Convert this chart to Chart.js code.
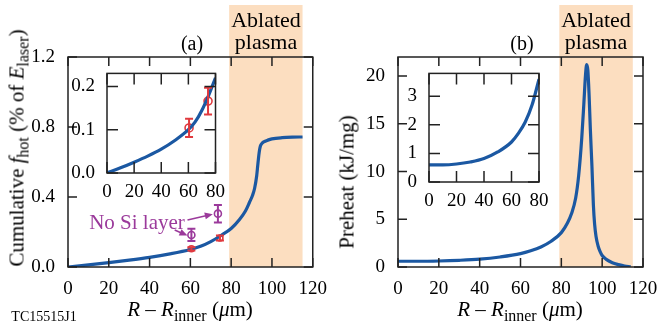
<!DOCTYPE html>
<html>
<head>
<meta charset="utf-8">
<script src="https://cdn.jsdelivr.net/npm/chart.js@4.4.1/dist/chart.umd.min.js"></script>
<style>
  body { margin: 0; width: 661px; height: 326px; position: relative; overflow: hidden; background: #fff;
         font-family: 'Liberation Serif', serif; color: #000; }
  canvas { position: absolute; }
  .t { position: absolute; white-space: nowrap; line-height: 1; transform: translate(-50%, -50%); font-family: 'Liberation Serif', serif; }
  .t sub { font-size: 76%; vertical-align: baseline; position: relative; top: 0.32em; }
  .rot { transform: translate(-50%, -50%) rotate(-90deg); }
</style>
</head>
<body>
<canvas id="mainA" width="330" height="326" style="left:0;top:0"></canvas>
<canvas id="insetA" width="165" height="145" style="left:60px;top:58px"></canvas>
<canvas id="mainB" width="331" height="326" style="left:330px;top:0"></canvas>
<canvas id="insetB" width="160" height="150" style="left:390px;top:58px"></canvas>

<div class="t" style="left:192px;top:43px;font-size:20px">(a)</div>
<div class="t" style="left:266px;top:31px;font-size:22px;text-align:center;line-height:22px">Ablated<br>plasma</div>
<div class="t" style="left:522px;top:43px;font-size:20px">(b)</div>
<div class="t" style="left:596px;top:31px;font-size:22px;text-align:center;line-height:22px">Ablated<br>plasma</div>
<div class="t" style="left:190px;top:309px;font-size:21px"><i>R</i> – <i>R</i><sub>inner</sub> (<i>μ</i>m)</div>
<div class="t" style="left:520px;top:309px;font-size:21px"><i>R</i> – <i>R</i><sub>inner</sub> (<i>μ</i>m)</div>
<div class="t rot" style="left:17px;top:148px;font-size:21px">Cumulative <i>f</i><sub>hot</sub> (% of <i>E</i><sub>laser</sub>)</div>
<div class="t rot" style="left:347px;top:182px;font-size:21px">Preheat (kJ/mg)</div>
<div class="t" style="left:44px;top:317px;font-size:14px">TC15515J1</div>
<div class="t" style="left:137px;top:222px;font-size:21px;color:#9b3a9b">No Si layer</div>

<script>
// ---- data ----
const ablatedRange = [79, 115];

// (a) cumulative f_hot (% of E_laser) vs R - R_inner (um)
const rFhot = [0, 10, 20, 30, 40, 50, 60, 65, 70, 75, 80, 84, 87, 89, 90.5, 91.5, 92.5, 93.2, 93.8, 94.3, 95, 96, 98, 100, 105, 110, 115];
const fhot  = [0, 0.012, 0.025, 0.039, 0.055, 0.075, 0.1, 0.118, 0.145, 0.18, 0.22, 0.27, 0.32, 0.37, 0.41, 0.45, 0.52, 0.6, 0.66, 0.69, 0.705, 0.715, 0.725, 0.732, 0.739, 0.742, 0.743];

// measured points with error bars
const measR   = [60.5, 74.5];
const measF   = [0.104, 0.166];
const measErr = [0.021, 0.031];
const noSiR   = [60.5, 73.5];
const noSiF   = [0.183, 0.305];
const noSiErr = [0.035, 0.05];

// arrows from "No Si layer" label to the purple points: [x0, y0, x1, y1]
const noSiArrows = [[52.3, 0.211, 58.6, 0.18], [58.6, 0.269, 71, 0.302]];

// (b) preheat (kJ/mg) vs R - R_inner (um)
const rHeat = [0, 10, 20, 30, 40, 50, 60, 65, 70, 75, 80, 83, 85, 87, 88.5, 90, 91, 91.8, 92.4, 93, 93.6, 94.2, 95, 95.7, 96.3, 97, 98, 99, 100, 102, 105, 108, 111, 114];
const heat  = [0.6, 0.6, 0.63, 0.7, 0.82, 1.05, 1.4, 1.7, 2.1, 2.7, 3.6, 4.6, 5.6, 7.2, 9.6, 13.5, 17, 20, 21.2, 20.6, 18, 14.5, 10.5, 6.5, 4.5, 3.2, 2.2, 1.6, 1.2, 0.8, 0.45, 0.25, 0.1, 0.02];

const xTicksMain = [0, 120, 20];   // min, max, step
const xTicksInset = [0, 80, 20];

const BLUE = '#1b58a2', RED = '#e0393e', PURPLE = '#9b3a9b', PEACH = '#fcdec0';
const FONT = { family: "'Liberation Serif', serif", size: 19 };

const pts = (xs, ys) => xs.map((x, i) => ({ x: x, y: ys[i] }));
const upTo = (xs, ys, lim) => pts(xs, ys).filter(p => p.x <= lim);

// frame with inward ticks on all four sides
const framePlugin = {
  id: 'frame',
  beforeDraw(chart, args, opts) {
    if (!opts.white) return;
    const a = chart.chartArea, ctx = chart.ctx;
    ctx.save();
    ctx.fillStyle = '#fff';
    ctx.fillRect(a.left, a.top, a.right - a.left, a.bottom - a.top);
    ctx.restore();
  },
  afterDraw(chart, args, opts) {
    const { ctx, chartArea: a, scales: { x, y } } = chart;
    const len = opts.len || 9;
    ctx.save();
    ctx.strokeStyle = '#222';
    ctx.lineWidth = 1.5;
    ctx.beginPath();
    x.ticks.forEach(t => {
      const px = x.getPixelForValue(t.value);
      ctx.moveTo(px, a.bottom); ctx.lineTo(px, a.bottom - len);
      ctx.moveTo(px, a.top); ctx.lineTo(px, a.top + len);
    });
    y.ticks.forEach(t => {
      const py = y.getPixelForValue(t.value);
      ctx.moveTo(a.left, py); ctx.lineTo(a.left + len, py);
      ctx.moveTo(a.right, py); ctx.lineTo(a.right - len, py);
    });
    ctx.stroke();
    ctx.strokeRect(a.left, a.top, a.right - a.left, a.bottom - a.top);
    ctx.restore();
  }
};

// shaded "ablated plasma" band, running up past the plot top
const shadePlugin = {
  id: 'shade',
  beforeDatasetsDraw(chart, args, opts) {
    if (!opts.range) return;
    const { ctx, chartArea: a, scales: { x } } = chart;
    const x0 = x.getPixelForValue(opts.range[0]), x1 = x.getPixelForValue(opts.range[1]);
    ctx.save();
    ctx.fillStyle = PEACH;
    ctx.fillRect(x0, opts.top, x1 - x0, a.bottom - opts.top);
    ctx.restore();
  }
};

// vertical error bars + annotation arrows
const errorPlugin = {
  id: 'errbars',
  afterDatasetsDraw(chart, args, opts) {
    const { ctx, scales: { x, y } } = chart;
    ctx.save();
    chart.data.datasets.forEach(ds => {
      if (!ds.errors) return;
      ctx.strokeStyle = ds.borderColor;
      ctx.lineWidth = 2;
      ds.data.forEach((p, i) => {
        const px = x.getPixelForValue(p.x);
        const y0 = y.getPixelForValue(p.y - ds.errors[i]), y1 = y.getPixelForValue(p.y + ds.errors[i]);
        ctx.beginPath();
        ctx.moveTo(px, y0); ctx.lineTo(px, y1);
        ctx.moveTo(px - 4, y0); ctx.lineTo(px + 4, y0);
        ctx.moveTo(px - 4, y1); ctx.lineTo(px + 4, y1);
        ctx.stroke();
      });
    });
    (opts.arrows || []).forEach(ar => {
      const x0 = x.getPixelForValue(ar[0]), y0 = y.getPixelForValue(ar[1]);
      const x1 = x.getPixelForValue(ar[2]), y1 = y.getPixelForValue(ar[3]);
      const ang = Math.atan2(y1 - y0, x1 - x0);
      ctx.strokeStyle = PURPLE; ctx.fillStyle = PURPLE; ctx.lineWidth = 1.6;
      ctx.beginPath();
      ctx.moveTo(x0, y0); ctx.lineTo(x1 - 6 * Math.cos(ang), y1 - 6 * Math.sin(ang));
      ctx.stroke();
      ctx.beginPath();
      ctx.moveTo(x1, y1);
      ctx.lineTo(x1 - 8 * Math.cos(ang) + 3.5 * Math.sin(ang), y1 - 8 * Math.sin(ang) - 3.5 * Math.cos(ang));
      ctx.lineTo(x1 - 8 * Math.cos(ang) - 3.5 * Math.sin(ang), y1 - 8 * Math.sin(ang) + 3.5 * Math.cos(ang));
      ctx.closePath();
      ctx.fill();
    });
    ctx.restore();
  }
};

function axis(range, fit, pad) {
  return {
    type: 'linear',
    min: range[0], max: range[1],
    grid: { display: false },
    border: { display: false },
    ticks: { stepSize: range[2], font: FONT, color: '#000', padding: pad, autoSkip: false, maxRotation: 0, includeBounds: false },
    afterFit: fit
  };
}

function lineSet(data) {
  return { type: 'line', data: data, borderColor: BLUE, borderWidth: 3.2, pointRadius: 0,
           cubicInterpolationMode: 'monotone', fill: false };
}

function pointSet(data, errs, color, r) {
  return { type: 'scatter', data: data, errors: errs, borderColor: color, backgroundColor: 'rgba(0,0,0,0)',
           borderWidth: 1.6, pointRadius: r, showLine: false };
}

function makeChart(id, datasets, xs, ys, pad, yFmt, plug) {
  ys.ticks.callback = yFmt;
  return new Chart(document.getElementById(id), {
    type: 'scatter',
    data: { datasets: datasets },
    options: {
      responsive: false,
      animation: false,
      layout: { padding: pad },
      plugins: Object.assign({ legend: { display: false }, tooltip: { enabled: false } }, plug),
      scales: { x: xs, y: ys }
    },
    plugins: [shadePlugin, framePlugin, errorPlugin]
  });
}

// (a) main
makeChart('mainA',
  [lineSet(pts(rFhot, fhot)),
   pointSet(pts(measR, measF), measErr.map(e => e * 0.45), RED, 3),
   pointSet(pts(noSiR, noSiF), noSiErr, PURPLE, 3.5)],
  axis(xTicksMain, s => { s.height = 59; }, 3),
  axis([0, 1.2, 0.4], s => { s.width = 68; }, 5),
  { top: 57, right: 17 },
  v => v.toFixed(1),
  { shade: { range: ablatedRange, top: 5 }, frame: { len: 9 }, errbars: { arrows: noSiArrows } });

// (a) inset
makeChart('insetA',
  [lineSet(upTo(rFhot, fhot, 80)),
   pointSet(pts(measR, measF), measErr, RED, 4)],
  axis(xTicksInset, s => { s.height = 30; }, 0),
  axis([0, 0.23, 0.1], s => { s.width = 47; }, 4),
  { top: 7, right: 8 },
  v => v.toFixed(1),
  { frame: { len: 11, white: true } });

// (b) main
makeChart('mainB',
  [lineSet(pts(rHeat, heat))],
  axis(xTicksMain, s => { s.height = 59; }, 3),
  axis([0, 22, 5], s => { s.width = 68; }, 5),
  { top: 57, right: 18 },
  v => v,
  { shade: { range: ablatedRange, top: 5 }, frame: { len: 9 } });

// (b) inset
makeChart('insetB',
  [lineSet(upTo(rHeat, heat, 80))],
  axis(xTicksInset, s => { s.height = 26; }, 0),
  axis([0, 3.8, 1], s => { s.width = 39; }, 4),
  { top: 8, right: 11 },
  v => v,
  { frame: { len: 11, white: true } });
</script>
</body>
</html>
